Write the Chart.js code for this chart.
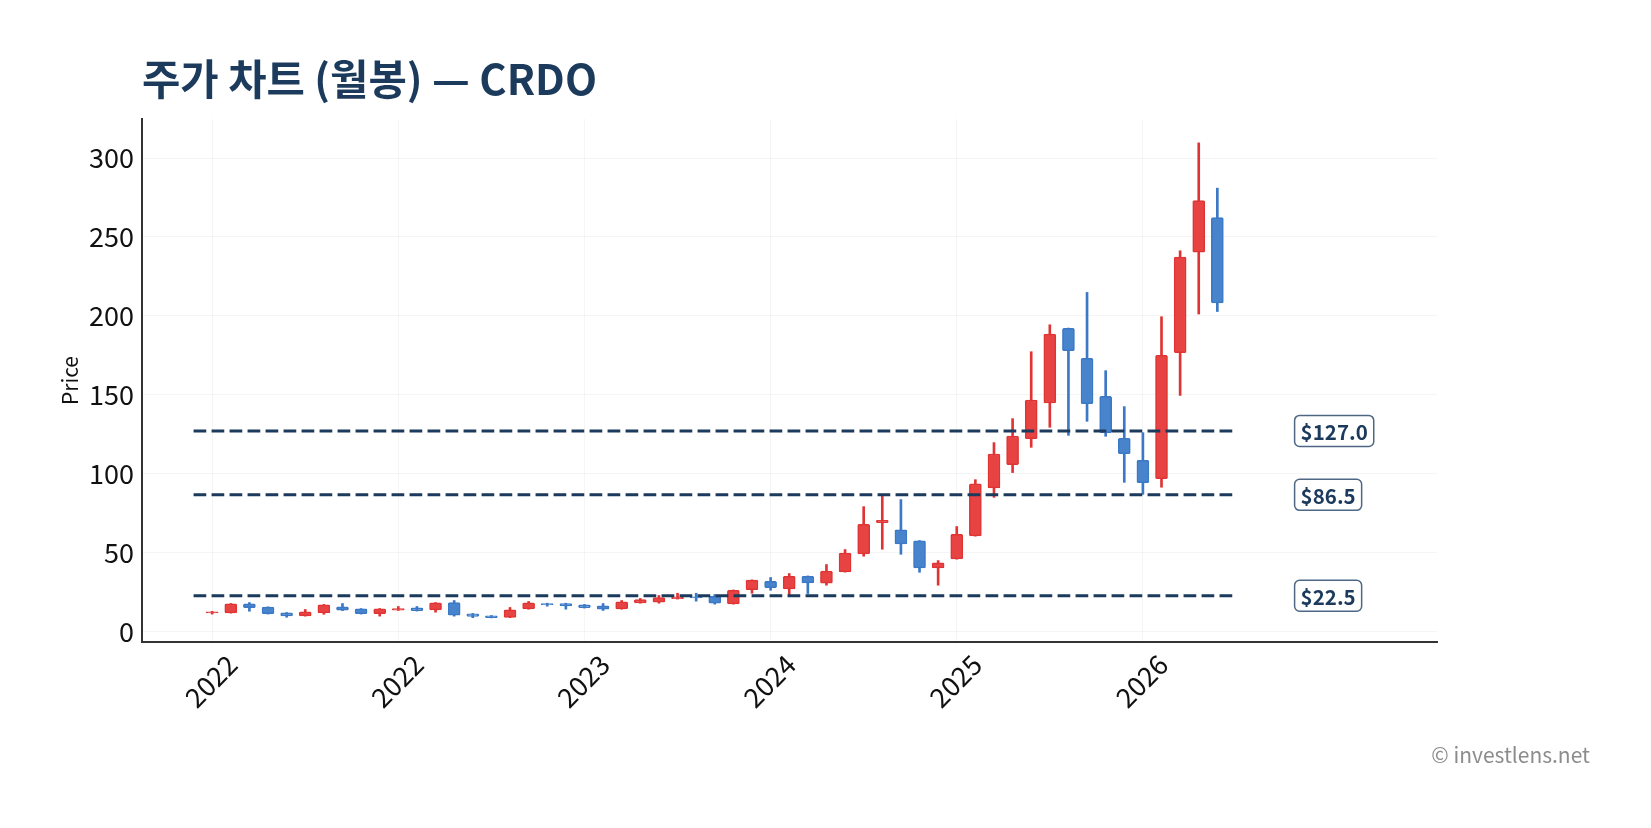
<!DOCTYPE html>
<html>
<head>
<meta charset="utf-8">
<title>CRDO monthly</title>
<script src="https://cdn.jsdelivr.net/npm/chart.js@4.4.1/dist/chart.umd.min.js"></script>
<style>
  html, body { margin: 0; padding: 0; background: #fff; overflow: hidden; }
</style>
</head>
<body>
<canvas id="myChart" width="1651" height="828"></canvas>
<script>
// monthly candles, Jan 2022 .. Jul 2026
var months = [
    '2022-01', '2022-02', '2022-03', '2022-04', '2022-05', '2022-06', '2022-07', '2022-08', '2022-09', '2022-10', '2022-11', '2022-12',
    '2023-01', '2023-02', '2023-03', '2023-04', '2023-05', '2023-06', '2023-07', '2023-08', '2023-09', '2023-10', '2023-11', '2023-12',
    '2024-01', '2024-02', '2024-03', '2024-04', '2024-05', '2024-06', '2024-07', '2024-08', '2024-09', '2024-10', '2024-11', '2024-12',
    '2025-01', '2025-02', '2025-03', '2025-04', '2025-05', '2025-06', '2025-07', '2025-08', '2025-09', '2025-10', '2025-11', '2025-12',
    '2026-01', '2026-02', '2026-03', '2026-04', '2026-05', '2026-06', '2026-07'
];
var opens = [
    11.6, 11.7, 17.4, 15.3, 11.7, 9.8, 11.7, 15.5, 14.2, 11.1, 13.4, 14.9,
    13.6, 18.2, 11.1, 9.8, 8.8, 14.2, 17.6, 17.6, 16.8, 16.1, 14.2, 18.0,
    18.4, 20.6, 21.8, 22.2, 17.4, 26.3, 31.7, 26.9, 34.9, 30.5, 37.7, 49.1,
    68.9, 64.3, 57.3, 40.2, 45.9, 60.5, 90.9, 105.6, 122.1, 144.7, 192.0, 173.0,
    148.9, 122.3, 108.4, 96.8, 176.6, 240.3, 262.3
];
var highs = [
    12.6, 17.6, 18.2, 15.5, 11.9, 13.8, 17.0, 17.6, 14.4, 14.4, 15.7, 15.7,
    18.2, 19.5, 11.3, 10.0, 15.1, 18.9, 17.8, 17.8, 17.0, 17.6, 19.5, 20.8,
    22.7, 24.1, 24.1, 23.3, 26.2, 32.6, 34.1, 36.6, 35.1, 42.3, 51.8, 79.0,
    85.6, 83.5, 57.5, 44.8, 66.4, 96.1, 119.6, 134.8, 177.2, 194.3, 192.2, 214.8,
    165.2, 142.4, 125.9, 199.4, 241.2, 309.6, 280.9
];
var lows = [
    10.9, 11.5, 12.7, 10.9, 8.9, 9.6, 10.8, 13.1, 10.9, 9.6, 13.2, 12.8,
    12.1, 9.6, 8.6, 8.5, 8.6, 14.0, 15.9, 14.0, 14.7, 13.2, 14.0, 17.8,
    17.8, 20.4, 19.1, 17.2, 17.2, 24.1, 26.0, 23.1, 23.9, 29.2, 37.5, 47.6,
    52.0, 48.8, 37.4, 29.2, 45.7, 60.3, 84.9, 100.6, 116.6, 129.3, 124.2, 133.1,
    123.6, 94.4, 86.8, 91.3, 149.5, 201.1, 202.7
];
var closes = [
    12.4, 17.4, 14.9, 11.1, 9.8, 12.3, 16.8, 13.4, 11.1, 14.2, 14.4, 13.0,
    18.0, 10.2, 9.4, 8.6, 13.6, 18.0, 16.8, 16.1, 14.9, 14.0, 18.7, 20.1,
    21.4, 21.8, 21.2, 17.8, 26.0, 32.4, 27.7, 34.9, 30.7, 38.1, 49.5, 67.8,
    70.4, 55.4, 40.2, 43.4, 61.5, 93.4, 112.4, 123.8, 146.6, 188.4, 177.8, 144.3,
    125.9, 112.6, 94.2, 174.9, 237.2, 273.0, 208.2
];
var levels = [127.0, 86.5, 22.5];
var levelLabels = ['$127.0', '$86.5', '$22.5'];
var yTicks = [0, 50, 100, 150, 200, 250, 300];
var xTickIdx = [0, 10, 20, 30, 40, 50];
var xTickLabels = ['2022', '2022', '2023', '2024', '2025', '2026'];

var FONT = "'Noto Sans CJK KR', 'Noto Sans', sans-serif";
var NAVY = '#1b3a5c';

// price tags at the right of the dashed levels
var levelTags = {
    id: 'levelTags',
    afterDatasetsDraw: function (chart) {
        var c = chart.ctx;
        var xs = chart.scales.x, ys = chart.scales.y;
        c.save();
        c.font = 'bold 20.5px ' + FONT;
        c.textBaseline = 'middle';
        c.textAlign = 'left';
        for (var k = 0; k < levels.length; k++) {
            var x = xs.getPixelForValue(58.15);
            var y = ys.getPixelForValue(levels[k]);
            var w = c.measureText(levelLabels[k]).width + 12;
            c.beginPath();
            c.roundRect(x, y - 15.5, w, 31, 5);
            c.fillStyle = '#fff';
            c.fill();
            c.lineWidth = 1.5;
            c.strokeStyle = '#4d6785';
            c.stroke();
            c.fillStyle = NAVY;
            c.fillText(levelLabels[k], x + 6, y + 1);
        }
        c.restore();
    }
};

var watermark = {
    id: 'watermark',
    afterDraw: function (chart) {
        var c = chart.ctx;
        c.save();
        c.font = '21px ' + FONT;
        c.fillStyle = '#8c8c8c';
        c.textAlign = 'right';
        c.textBaseline = 'middle';
        c.fillText('\u00a9 investlens.net', 1590, 755);
        c.restore();
    }
};

function renderChart() {
    var bodies = [], wicks = [], fills = [], edges = [];
    for (var i = 0; i < months.length; i++) {
        var up = closes[i] >= opens[i]; // red = up, blue = down
        bodies.push({x: i, y: [opens[i], closes[i]]});
        wicks.push({x: i, y: [lows[i], highs[i]]});
        fills.push(up ? '#e84343' : '#4784cc');
        edges.push(up ? '#e03434' : '#3b78c6');
    }

    var lineSets = levels.map(function (lv) {
        return {
            type: 'line',
            data: [{x: -1, y: lv}, {x: 55, y: lv}],
            borderColor: NAVY,
            borderWidth: 3,
            borderDash: [12.7, 5.3],
            pointRadius: 0,
            fill: false,
            order: -1
        };
    });

    Chart.defaults.font.family = FONT;
    var ctx = document.getElementById('myChart').getContext('2d');
    var myChart = new Chart(ctx, {
        type: 'bar',
        data: {
            datasets: [{
                label: 'body',
                data: bodies,
                backgroundColor: fills,
                borderColor: edges,
                borderWidth: 1.5,
                borderSkipped: false,
                borderRadius: 1.5,
                barThickness: 12,
                grouped: false,
                order: 0
            }, {
                label: 'wick',
                data: wicks,
                backgroundColor: edges,
                borderWidth: 0,
                barThickness: 2,
                grouped: false,
                order: 1
            }].concat(lineSets)
        },
        options: {
            responsive: false,
            animation: false,
            layout: { padding: { left: 0, right: 214, top: 0, bottom: 0 } },
            plugins: {
                legend: { display: false },
                tooltip: { enabled: false },
                title: {
                    display: true,
                    text: '주가 차트 (월봉) — CRDO',
                    align: 'start',
                    fullSize: false,
                    color: NAVY,
                    font: { size: 41.7, weight: 'bold', family: FONT },
                    padding: { top: 54, bottom: 15 }
                }
            },
            scales: {
                x: {
                    type: 'linear',
                    min: -3.77,
                    max: 65.8,
                    offset: false,
                    afterBuildTicks: function (scale) {
                        scale.ticks = xTickIdx.map(function (v) { return {value: v}; });
                    },
                    afterFit: function (scale) { scale.height = 186; },
                    ticks: {
                        autoSkip: false,
                        minRotation: 45,
                        maxRotation: 45,
                        labelOffset: 20,
                        padding: 6.3,
                        color: '#111',
                        font: { size: 27 },
                        callback: function (value) {
                            var k = xTickIdx.indexOf(value);
                            return k >= 0 ? xTickLabels[k] : '';
                        }
                    },
                    grid: { color: 'rgba(0,0,0,0.04)', drawTicks: false, offset: false },
                    border: { color: '#333', width: 2 }
                },
                y: {
                    min: -6.8,
                    max: 324.7,
                    afterBuildTicks: function (scale) {
                        scale.ticks = yTicks.map(function (v) { return {value: v}; });
                    },
                    afterFit: function (scale) { scale.width = 142; },
                    ticks: { padding: 8, color: '#111', font: { size: 27 } },
                    grid: { color: 'rgba(0,0,0,0.04)', drawTicks: false },
                    border: { color: '#333', width: 2 },
                    title: {
                        display: true,
                        text: 'Price',
                        color: '#111',
                        font: { size: 21 },
                        padding: { top: 57, bottom: 0 }
                    }
                }
            }
        },
        plugins: [levelTags, watermark]
    });
}

renderChart();
</script>
</body>
</html>
